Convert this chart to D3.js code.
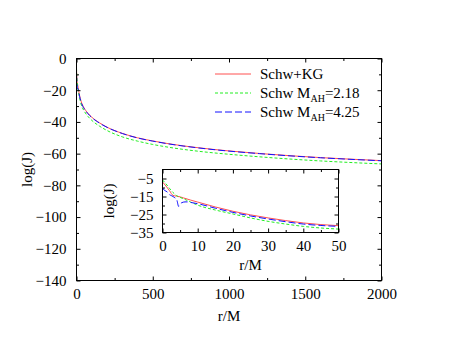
<!DOCTYPE html>
<html><head><meta charset="utf-8">
<script src="https://cdn.jsdelivr.net/npm/d3@7"></script>
<style>
body{margin:0;background:#fff;}
svg{display:block;}
svg text{font-family:"Liberation Serif","DejaVu Serif",serif !important;fill:#000;}
</style></head>
<body><div id="chart"></div>
<script>
// ---------- data ----------
const mainR = [0, 2, 4, 5, 10, 20, 30, 50, 75, 100, 150, 200, 300, 400, 500, 600, 800, 1000, 1200, 1400, 1600, 1800, 2000];
const mainKG = [-7, -11, -14.5, -15, -18, -23.2, -26.9, -31.2, -34.5, -37, -40.5, -43.3, -47.2, -50, -52, -53.7, -56.3, -58.3, -59.9, -61.3, -62.5, -63.5, -64.4];
const mainM218 = [-6, -11, -14.5, -15.5, -19.8, -24.7, -28.8, -33.1, -36.5, -39, -42.6, -45.4, -49.4, -52.1, -54.2, -55.9, -58.5, -60.4, -62, -63.4, -64.6, -65.6, -66.5];
const mainM425 = [-10, -14, -16.5, -19, -19, -23.8, -27.5, -31.6, -34.8, -37.2, -40.7, -43.4, -47.3, -50.1, -52.1, -53.8, -56.4, -58.4, -60, -61.4, -62.6, -63.6, -64.5];

const insetR = [0, 1, 2, 3, 4, 5, 6, 8, 10, 15, 20, 25, 30, 35, 40, 45, 50];
const insetKG = [-6.9, -9.2, -11.8, -14.4, -14.8, -15.2, -15.8, -17, -18.1, -20.8, -23.2, -25.2, -26.9, -28.4, -29.7, -30.6, -31.2];
const insetM218 = [-5.8, -8, -10.5, -12.8, -14.5, -15.5, -16.3, -18.1, -19.8, -22.5, -24.7, -26.9, -28.8, -30.3, -31.6, -32.5, -33.1];
const insetR425 = [0, 0.5, 1, 1.5, 2, 2.5, 3, 3.5, 4, 4.6, 5, 5.4, 6.4, 7, 8, 10, 15, 20, 25, 30, 35, 40, 45, 50];
const insetM425 = [-10, -11.5, -12, -12.8, -14, -14.5, -15, -15.7, -16.5, -20.5, -19.3, -18.5, -18, -18, -18.3, -19, -21.5, -23.8, -25.8, -27.5, -29, -30.3, -31.1, -31.6];

const mainXTicks = [0, 500, 1000, 1500, 2000];
const mainXMinor = [250, 750, 1250, 1750];
const mainYTicks = [0, -20, -40, -60, -80, -100, -120, -140];
const mainYMinor = [-10, -30, -50, -70, -90, -110, -130];
const insetXTicks = [0, 10, 20, 30, 40, 50];
const insetXMinor = [5, 15, 25, 35, 45];
const insetYTicks = [-5, -15, -25, -35];
const insetYMinor = [-10, -20, -30];

const seriesNames = ["Schw+KG", "Schw M", "Schw M"];
const seriesSubs = ["", "AH", "AH"];
const seriesTails = ["", "=2.18", "=4.25"];
const seriesColors = ["#ff5050", "#22ee22", "#1010ff"];
const seriesDash = [null, "3,2", "7,3"];

// ---------- drawing ----------
const W = 457, H = 339;
const svg = d3.select("#chart").append("svg").attr("width", W).attr("height", H);
const FS = 15;
const FONT = '"Liberation Serif","DejaVu Serif",serif';

function panel(g, box, xDom, yDom) {
  const x = d3.scaleLinear().domain(xDom).range([box.x0, box.x1]);
  const y = d3.scaleLinear().domain(yDom).range([box.y1, box.y0]);
  g.append("rect").attr("x", box.x0).attr("y", box.y0)
    .attr("width", box.x1 - box.x0).attr("height", box.y1 - box.y0)
    .attr("fill", "#fff").attr("stroke", "none");
  return {x, y};
}

function axes(g, box, x, y, xT, xM, yT, yM, xPad, yPad) {
  const ax = [
    [d3.axisBottom(x).tickValues(xT).tickSize(-4).tickPadding(xPad).tickFormat(d3.format("d")), `translate(0,${box.y1})`],
    [d3.axisBottom(x).tickValues(xM).tickSize(-2.5).tickFormat(""), `translate(0,${box.y1})`],
    [d3.axisTop(x).tickValues(xT).tickSize(-4).tickFormat(""), `translate(0,${box.y0})`],
    [d3.axisTop(x).tickValues(xM).tickSize(-2.5).tickFormat(""), `translate(0,${box.y0})`],
    [d3.axisLeft(y).tickValues(yT).tickSize(-4).tickPadding(yPad).tickFormat(d3.format("d")), `translate(${box.x0},0)`],
    [d3.axisLeft(y).tickValues(yM).tickSize(-2.5).tickFormat(""), `translate(${box.x0},0)`],
    [d3.axisRight(y).tickValues(yT).tickSize(-4).tickFormat(""), `translate(${box.x1},0)`],
    [d3.axisRight(y).tickValues(yM).tickSize(-2.5).tickFormat(""), `translate(${box.x1},0)`]
  ];
  ax.forEach(([a, t]) => {
    const s = g.append("g").attr("transform", t).call(a)
      .attr("font-family", FONT).attr("font-size", FS);
    s.select(".domain").remove();
    s.selectAll("line").attr("stroke", "#000").attr("stroke-width", 1);
    s.selectAll("text").attr("fill", "#000");
  });
  g.append("rect").attr("x", box.x0).attr("y", box.y0)
    .attr("width", box.x1 - box.x0).attr("height", box.y1 - box.y0)
    .attr("fill", "none").attr("stroke", "#000").attr("stroke-width", 1);
}

function curves(g, box, x, y, sets) {
  const clipId = "clip" + Math.round(box.x0);
  svg.append("clipPath").attr("id", clipId).append("rect")
    .attr("x", box.x0).attr("y", box.y0).attr("width", box.x1 - box.x0).attr("height", box.y1 - box.y0);
  const cg = g.append("g").attr("clip-path", `url(#${clipId})`);
  sets.forEach(([rs, vs], i) => {
    const line = d3.line().x((d, j) => x(rs[j])).y(d => y(d)).curve(d3.curveMonotoneX);
    cg.append("path").datum(vs).attr("d", line)
      .attr("fill", "none").attr("stroke", seriesColors[i]).attr("stroke-width", 1)
      .attr("stroke-dasharray", seriesDash[i]);
  });
}

// main panel
const mainBox = {x0: 76.5, x1: 381.5, y0: 58.5, y1: 280.5};
const mainG = svg.append("g");
const M = panel(mainG, mainBox, [0, 2000], [-140, 0]);
curves(mainG, mainBox, M.x, M.y, [[mainR, mainKG], [mainR, mainM218], [mainR, mainM425]]);
axes(mainG, mainBox, M.x, M.y, mainXTicks, mainXMinor, mainYTicks, mainYMinor, 8, 10);

svg.append("text").attr("x", (mainBox.x0 + mainBox.x1) / 2).attr("y", 321)
  .attr("text-anchor", "middle").attr("font-size", FS).text("r/M");
svg.append("text").attr("transform", `translate(32,${(mainBox.y0 + mainBox.y1) / 2}) rotate(-90)`)
  .attr("text-anchor", "middle").attr("font-size", FS).text("log(J)");

// legend
const legY = [74, 93, 112];
seriesNames.forEach((n, i) => {
  svg.append("line").attr("x1", 215).attr("x2", 251).attr("y1", legY[i]).attr("y2", legY[i])
    .attr("stroke", seriesColors[i]).attr("stroke-width", 1).attr("stroke-dasharray", seriesDash[i]);
  const t = svg.append("text").attr("x", 260).attr("y", legY[i] + 5).attr("font-size", FS);
  t.append("tspan").text(n);
  if (seriesSubs[i]) {
    t.append("tspan").attr("font-size", 10).attr("dy", 4).text(seriesSubs[i]);
    t.append("tspan").attr("dy", -4).text(seriesTails[i]);
  }
});

// inset panel
const inBox = {x0: 162.5, x1: 338.5, y0: 169.5, y1: 232.5};
const inG = svg.append("g");
const I = panel(inG, inBox, [0, 50], [-35, 0]);
curves(inG, inBox, I.x, I.y, [[insetR, insetKG], [insetR, insetM218], [insetR425, insetM425]]);
axes(inG, inBox, I.x, I.y, insetXTicks, insetXMinor, insetYTicks, insetYMinor, 8, 9);

svg.append("text").attr("x", (inBox.x0 + inBox.x1) / 2).attr("y", 270)
  .attr("text-anchor", "middle").attr("font-size", FS).text("r/M");
svg.append("text").attr("transform", `translate(114,${(inBox.y0 + inBox.y1) / 2}) rotate(-90)`)
  .attr("text-anchor", "middle").attr("font-size", FS).text("log(J)");
</script></body></html>
